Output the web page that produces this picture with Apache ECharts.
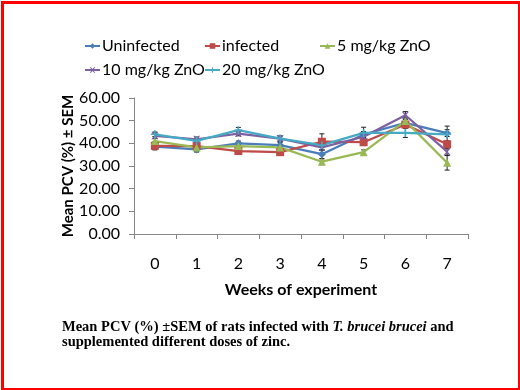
<!DOCTYPE html>
<html><head><meta charset="utf-8">
<script src="https://cdn.jsdelivr.net/npm/echarts@6/dist/echarts.min.js"></script>
<style>html,body{margin:0;padding:0;background:#fff}#c{width:520px;height:390px}</style>
</head><body><div id="c"></div>
<script>
const weeks = ['0','1','2','3','4','5','6','7'];
const seriesNames = ['Uninfected','infected','5 mg/kg ZnO','10 mg/kg ZnO','20 mg/kg ZnO'];
const uninfected = [38.5, 37.3, 40.0, 39.2, 35.2, 43.9, 49.0, 44.5];
const infected   = [38.9, 38.8, 36.6, 36.1, 40.7, 40.5, 48.3, 39.6];
const zno5       = [41.0, 38.2, 38.8, 38.2, 31.9, 36.1, 49.9, 31.4];
const zno10      = [43.3, 41.8, 44.3, 42.1, 38.2, 42.9, 52.4, 36.3];
const zno20      = [44.0, 41.1, 45.8, 42.1, 39.2, 44.6, 44.6, 44.0];
const semUninf   = [1.2, 1.0, 1.0, 1.2, 2.0, 1.3, 1.6, 1.5];
const semInf     = [1.8, 1.5, 1.5, 1.3, 3.5, 1.5, 1.2, 1.5];
const sem5       = [1.2, 2.0, 1.0, 1.0, 1.3, 1.0, 1.5, 3.2];
const sem10      = [1.2, 1.0, 1.0, 1.0, 1.2, 1.2, 1.6, 1.5];
const sem20      = [1.0, 1.0, 1.2, 1.2, 1.0, 2.5, 2.0, 3.6];
const yTicks = [0, 10, 20, 30, 40, 50, 60];

const colors = ['#4A7EBB','#BE4B48','#98B954','#7D60A0','#46AAC5'];
const values = [uninfected, infected, zno5, zno10, zno20];
const sems = [semUninf, semInf, sem5, sem10, sem20];
const xPath = 'path://M0,0 L2,0 L5,3 L8,0 L10,0 L6,5 L10,10 L8,10 L5,7 L2,10 L0,10 L4,5 Z';
const starPath = 'path://M4,0 L6,0 L6,4 L10,4 L10,6 L6,6 L6,10 L4,10 L4,6 L0,6 L0,4 L4,4 Z';
const symbols = ['diamond','rect','triangle',xPath,starPath];
const symSizes = [8, 8, 8, 7, 8];
const font = 'Lato';

const chart = echarts.init(document.getElementById('c'));
const series = [];
values.forEach((vals, si) => {
  series.push({
    type: 'custom',
    name: 'err' + si,
    silent: true,
    z: 1,
    data: vals.map((v, i) => [i, v - sems[si][i], v + sems[si][i]]),
    renderItem: function (params, api) {
      const lo = api.coord([api.value(0), api.value(1)]);
      const hi = api.coord([api.value(0), api.value(2)]);
      const cap = 2.5;
      const st = {stroke: '#222', lineWidth: 1};
      return {type: 'group', children: [
        {type: 'line', shape: {x1: lo[0], y1: lo[1], x2: hi[0], y2: hi[1]}, style: st},
        {type: 'line', shape: {x1: lo[0]-cap, y1: lo[1], x2: lo[0]+cap, y2: lo[1]}, style: st},
        {type: 'line', shape: {x1: hi[0]-cap, y1: hi[1], x2: hi[0]+cap, y2: hi[1]}, style: st}
      ]};
    }
  });
});
values.forEach((vals, si) => {
  series.push({
    type: 'line',
    name: seriesNames[si],
    data: vals,
    z: 3,
    symbol: symbols[si],
    symbolSize: symSizes[si],
    itemStyle: {color: colors[si]},
    lineStyle: {color: colors[si], width: 2.25},
    animation: false
  });
});

const legendPos = [[84, 38], [204, 38], [319, 38], [84, 62], [204, 62]];
const legends = seriesNames.map((n, i) => ({
  data: [n], left: legendPos[i][0], top: legendPos[i][1],
  itemWidth: 15, itemHeight: 7, itemGap: 0, padding: 0,
  textStyle: {fontFamily: font, fontSize: 16, color: '#000', padding: [0, 0, 0, -3]},
  selectedMode: false
}));

chart.setOption({
  animation: false,
  backgroundColor: '#fff',
  legend: legends,
  grid: {left: 134, right: 52, top: 98, bottom: 156},
  xAxis: {
    type: 'category', data: weeks, boundaryGap: true,
    name: 'Weeks of experiment', nameLocation: 'middle', nameGap: 48,
    nameTextStyle: {fontFamily: font, fontSize: 16, fontWeight: 'bold', color: '#000'},
    axisLine: {lineStyle: {color: '#868686', width: 1}},
    axisTick: {show: true, length: 5, alignWithLabel: false, lineStyle: {color: '#868686'}},
    axisLabel: {fontFamily: font, fontSize: 16, color: '#000', margin: 22}
  },
  yAxis: {
    type: 'value', min: yTicks[0], max: yTicks[yTicks.length-1], interval: 10,
    name: 'Mean PCV (%) ± SEM', nameLocation: 'middle', nameGap: 58, nameMoveOverlap: false,
    nameTextStyle: {fontFamily: font, fontSize: 15, fontWeight: 'bold', color: '#000'},
    axisLine: {show: true, lineStyle: {color: '#868686', width: 1}},
    axisTick: {show: true, length: 5, lineStyle: {color: '#868686'}},
    splitLine: {show: false},
    axisLabel: {fontFamily: font, fontSize: 16, color: '#000', margin: 14, formatter: v => v.toFixed(2)}
  },
  graphic: [
    {type: 'rect', left: 0, top: 0, shape: {x: 1.5, y: 1.5, width: 517, height: 387},
     style: {fill: 'none', stroke: '#FF0000', lineWidth: 3}, z: 100},
    {type: 'text', left: 62, top: 320, style: {
      text: '{b|Mean PCV (%) ±SEM of rats infected with }{i|T. brucei brucei}{b| and}',
      rich: {
        b: {fontFamily: 'Liberation Serif', fontWeight: 'bold', fontSize: 14.5, fill: '#000'},
        i: {fontFamily: 'Liberation Serif', fontWeight: 'bold', fontStyle: 'italic', fontSize: 14.5, fill: '#000'}
      }}},
    {type: 'text', left: 62, top: 335, style: {
      text: 'supplemented different doses of zinc.',
      fontFamily: 'Liberation Serif', fontWeight: 'bold', fontSize: 14.5, fill: '#000'}}
  ],
  series: series
});
</script></body></html>
